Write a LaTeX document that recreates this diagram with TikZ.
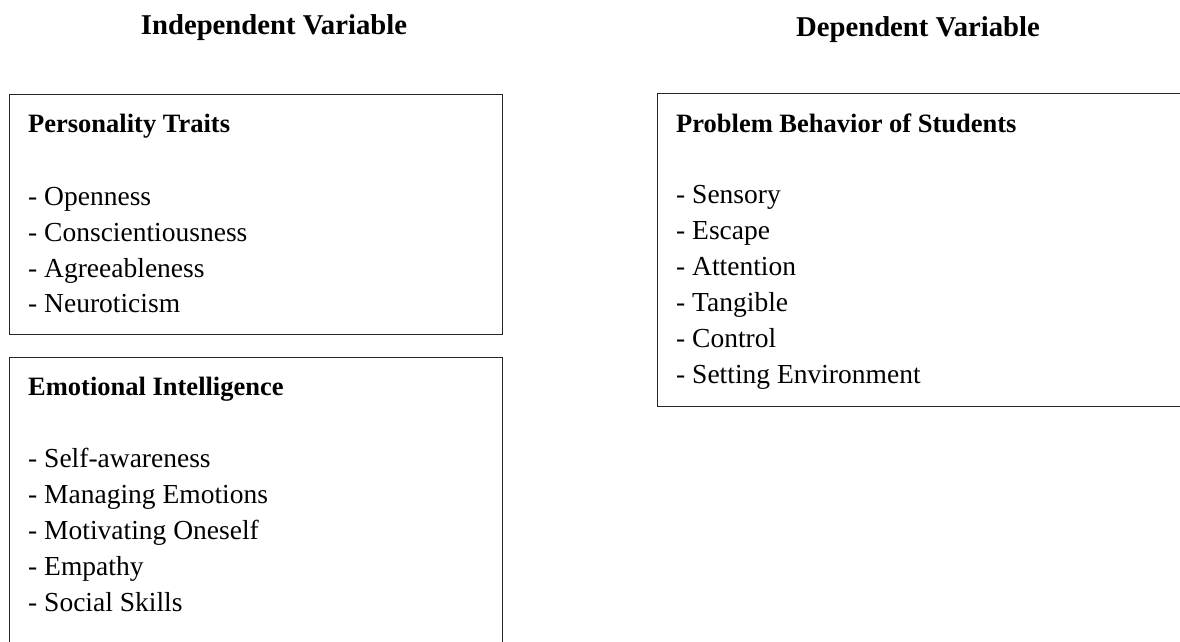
\documentclass[tikz,border=0pt]{standalone}
\usepackage{fontspec}
\setmainfont{Liberation Serif}
\begin{document}
\begin{tikzpicture}[x=1pt,y=1pt,
  box/.style={draw=black!85,line width=0.9pt},
  txt/.style={anchor=base west,inner sep=0pt,font=\fontsize{27.5}{36}\selectfont},
  ttl/.style={txt,font=\fontsize{26.5}{36}\selectfont\bfseries},
  hdr/.style={anchor=base,inner sep=0pt,font=\fontsize{28.7}{36}\selectfont\bfseries}]
\useasboundingbox (0,0) rectangle (1180,-642);
\clip (0,0) rectangle (1180,-642);
% headers
\node[hdr] (hIV) at (274,-35) {Independent Variable};
\node[hdr] (hDV) at (918,-37) {Dependent Variable};
% boxes
\draw[box] (9,-94) rectangle (502,-334);
\draw[box] (9,-357) rectangle (502,-660);
\draw[box] (657,-93) rectangle (1200,-406);
% Personality Traits
\node[ttl] (pt) at (28,-132) {Personality Traits};
\node[txt] (pt1) at (28,-205) {- Openness};
\node[txt] (pt2) at (28,-241) {- Conscientiousness};
\node[txt] (pt3) at (28,-277) {- Agreeableness};
\node[txt] (pt4) at (28,-312) {- Neuroticism};
% Emotional Intelligence
\node[ttl] (ei) at (28,-395) {Emotional Intelligence};
\node[txt] (ei1) at (28,-467) {- Self-awareness};
\node[txt] (ei2) at (28,-503) {- Managing Emotions};
\node[txt] (ei3) at (28,-539) {- Motivating Oneself};
\node[txt] (ei4) at (28,-575) {- Empathy};
\node[txt] (ei5) at (28,-611) {- Social Skills};
% Problem Behavior
\node[ttl] (pb) at (676,-132) {Problem Behavior of Students};
\node[txt] (pb1) at (676,-203) {- Sensory};
\node[txt] (pb2) at (676,-239) {- Escape};
\node[txt] (pb3) at (676,-275) {- Attention};
\node[txt] (pb4) at (676,-311) {- Tangible};
\node[txt] (pb5) at (676,-347) {- Control};
\node[txt] (pb6) at (676,-383) {- Setting Environment};
\end{tikzpicture}
\end{document}
